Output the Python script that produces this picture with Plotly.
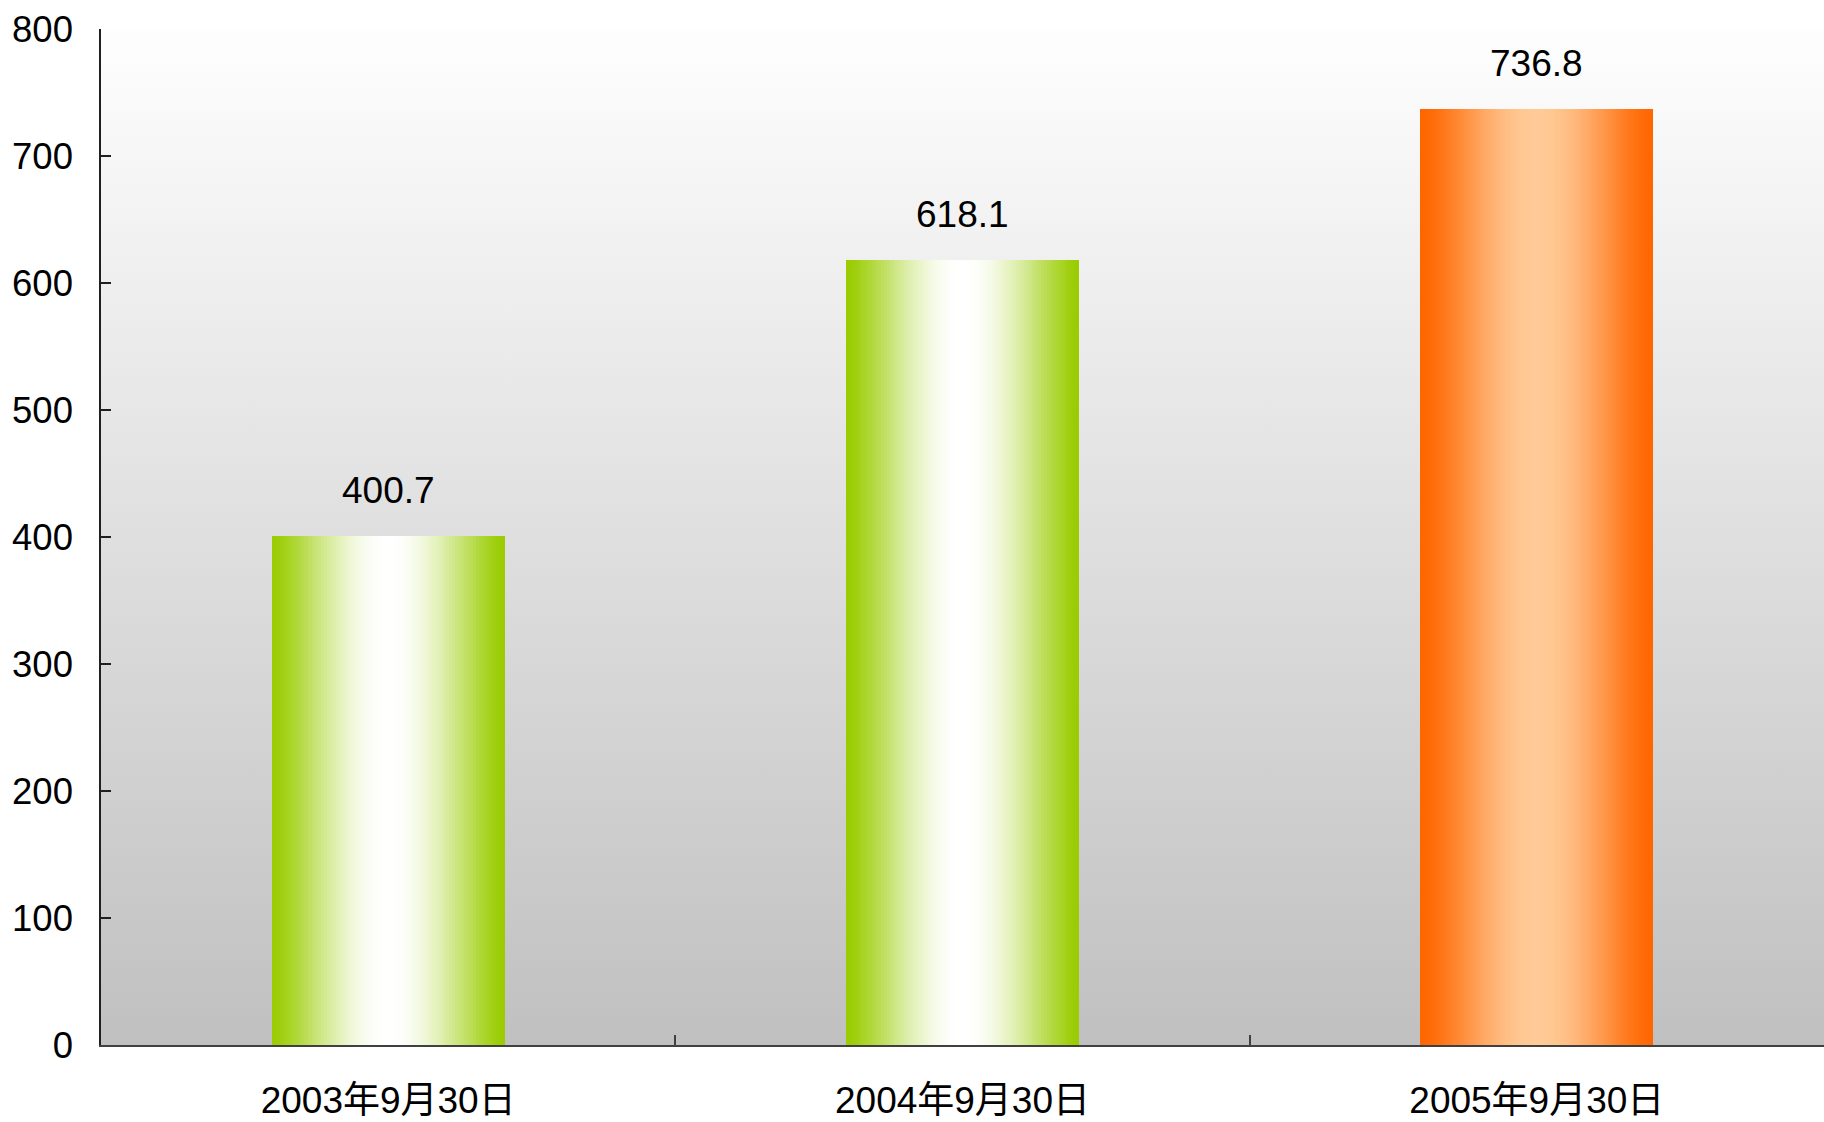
import base64
import math
import plotly.graph_objects as go

# ---- data ----
categories = ["2003年9月30日", "2004年9月30日", "2005年9月30日"]
values = [400.7, 618.1, 736.8]
value_labels = ["400.7", "618.1", "736.8"]
y_ticks = [0, 100, 200, 300, 400, 500, 600, 700, 800]

# ---- styles ----
edge_colors = ["#99cc00", "#99cc00", "#ff6600"]
center_colors = ["#ffffff", "#ffffff", "#ffca96"]
ramp_power = [1.35, 1.35, 1.5]
BAR_WIDTH = 0.406
N_SLICES = 80
FONT = "Liberation Sans, Arial, Noto Sans CJK SC, sans-serif"


def hex_to_rgb(h):
    h = h.lstrip("#")
    return tuple(int(h[i:i + 2], 16) for i in (0, 2, 4))


def mix(c1, c2, t):
    a, b = hex_to_rgb(c1), hex_to_rgb(c2)
    return "rgb(%d,%d,%d)" % tuple(round(a[i] + (b[i] - a[i]) * t) for i in range(3))


fig = go.Figure()

# bars drawn as thin vertical slices, each slice a bar of the same value
for cat, val, ec, cc, rp in zip(categories, values, edge_colors, center_colors, ramp_power):
    offsets, widths, colors = [], [], []
    sw = BAR_WIDTH / N_SLICES
    for i in range(N_SLICES):
        pos = (i + 0.5) / N_SLICES
        t = math.sin(math.pi * pos) ** rp
        colors.append(mix(ec, cc, t))
        offsets.append(-BAR_WIDTH / 2 + i * sw)
        widths.append(sw * 1.02)
    fig.add_trace(go.Bar(
        x=[cat] * N_SLICES, y=[val] * N_SLICES,
        offset=offsets, width=widths,
        marker=dict(color=colors, line=dict(width=0)),
        showlegend=False, hoverinfo="skip",
    ))

# value labels
for cat, val, lab in zip(categories, values, value_labels):
    fig.add_annotation(x=cat, y=val, text=lab, showarrow=False,
                       yanchor="middle", yshift=46,
                       font=dict(family=FONT, size=37, color="black"))

# background vertical gradient (plot area)
svg = ('<svg xmlns="http://www.w3.org/2000/svg" width="100" height="100" preserveAspectRatio="none">'
       '<defs><linearGradient id="g" x1="0" y1="0" x2="0" y2="1">'
       '<stop offset="0" stop-color="#fefefe"/><stop offset="1" stop-color="#c0c0c0"/>'
       '</linearGradient></defs><rect width="100" height="100" fill="url(#g)"/></svg>')
uri = "data:image/svg+xml;base64," + base64.b64encode(svg.encode()).decode()
fig.add_layout_image(dict(source=uri, xref="paper", yref="paper", x=0, y=1,
                          sizex=1, sizey=1, xanchor="left", yanchor="top",
                          sizing="stretch", layer="below"))

fig.update_layout(
    width=1824, height=1122,
    margin=dict(l=101, r=0, t=29, b=77),
    paper_bgcolor="white", plot_bgcolor="rgba(0,0,0,0)",
    barmode="overlay", bargap=0,
    font=dict(family=FONT, size=36, color="black"),
    showlegend=False,
)
fig.update_xaxes(
    type="category", categoryorder="array", categoryarray=categories,
    showline=True, linecolor="#404040", linewidth=2,
    ticks="inside", tickson="boundaries", ticklen=10, tickcolor="#404040", tickwidth=1.5,
    showgrid=False, zeroline=False, ticklabelstandoff=22,
    tickfont=dict(family=FONT, size=37),
)
fig.update_yaxes(
    range=[0, 800], tickvals=y_ticks, ticktext=[str(v) for v in y_ticks],
    showline=True, linecolor="#202020", linewidth=1.5,
    ticks="inside", ticklen=10, tickcolor="#202020", tickwidth=1.5,
    showgrid=False, zeroline=False, ticklabelstandoff=19,
    tickfont=dict(family=FONT, size=36.5),
)

fig.write_html("out.html",
               config={"displayModeBar": False},
               post_script="document.body.style.margin='0';document.body.style.overflow='hidden';")
